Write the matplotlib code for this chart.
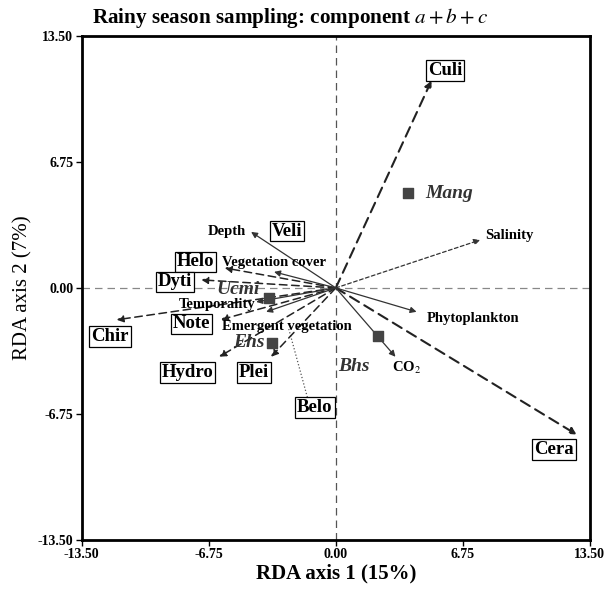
import matplotlib.pyplot as plt
import numpy as np

plt.rcParams['font.family'] = ['Liberation Serif', 'DejaVu Serif']
plt.rcParams['mathtext.fontset'] = 'stix'

# species arrows (tip coordinates) and their boxed labels
species = ['Culi', 'Cera', 'Helo', 'Dyti', 'Note', 'Chir', 'Hydro', 'Plei']
sp_x = [5.08, 12.8, -5.9, -7.15, -6.1, -11.65, -6.2, -3.44]
sp_y = [11.1, -7.86, 1.07, 0.43, -1.7, -1.71, -3.69, -3.69]

box_names = ['Culi', 'Veli', 'Helo', 'Dyti', 'Note', 'Chir', 'Hydro', 'Plei', 'Belo', 'Cera']
box_x = [5.8, -2.6, -7.46, -8.57, -7.67, -12.0, -7.88, -4.34, -1.11, 11.6]
box_y = [11.65, 3.05, 1.39, 0.32, -1.93, -2.62, -4.55, -4.55, -6.42, -8.66]

# environmental variables (arrow tips) and label positions
env = ['Depth', 'Vegetation cover', 'Temporality', 'Emergent vegetation',
       'Salinity', 'Phytoplankton', 'CO$_2$']
env_x = [-4.5, -3.28, -4.23, -3.7, 7.67, 4.29, 3.17]
env_y = [3.0, 0.86, -0.75, -1.28, 2.57, -1.28, -3.69]
env_lx = [-5.8, -3.3, -6.3, -2.6, 9.2, 7.3, 3.75]
env_ly = [3.0, 1.34, -0.9, -2.08, 2.83, -1.66, -4.3]

# habitat centroids
hab = ['Mang', 'Bhs', 'Ehs', 'Ucmi']
hab_x = [3.86, 2.22, -3.39, -3.54]
hab_y = [5.08, -2.56, -2.94, -0.53]
hab_lx = [4.75, 0.95, -4.6, -5.2]
hab_ly = [5.08, -4.23, -2.94, -0.1]

fig = plt.figure(figsize=(6.1, 5.9), dpi=100)
ax = fig.add_axes([0.134, 0.085, 0.833, 0.854])
ax.set_xlim(-13.5, 13.5)
ax.set_ylim(-13.5, 13.5)

ax.axhline(0, color='#888888', lw=0.9, ls=(0, (6, 4)))
ax.axvline(0, color='#555555', lw=0.9, ls=(0, (6, 4)))

for name, x, y in zip(species, sp_x, sp_y):
    lw = 1.5 if name in ('Culi', 'Cera') else 1.1
    ax.annotate('', xy=(x, y), xytext=(0, 0),
                arrowprops=dict(arrowstyle='-|>', color='#222222', lw=lw,
                                ls=(0, (5, 3)), mutation_scale=10, shrinkA=0, shrinkB=0))

for name, x, y in zip(env, env_x, env_y):
    ls = (0, (3, 2)) if name == 'Salinity' else '-'
    ax.annotate('', xy=(x, y), xytext=(0, 0),
                arrowprops=dict(arrowstyle='-|>', color='#333333', lw=0.9, ls=ls,
                                mutation_scale=9, shrinkA=0, shrinkB=0))

# dotted leader to Belo
ax.plot([-2.5, -1.5], [-2.2, -5.9], color='#555555', lw=0.9, ls=':')

for name, x, y in zip(env, env_lx, env_ly):
    ax.text(x, y, name, fontsize=10.5, fontweight='bold', ha='center', va='center')

for name, x, y in zip(box_names, box_x, box_y):
    ax.text(x, y, name, fontsize=13.5, fontweight='bold', ha='center', va='center',
            bbox=dict(boxstyle='square,pad=0.1', fc='white', ec='black', lw=0.9))

ax.scatter(hab_x, hab_y, marker='s', s=60, color='#444444', zorder=5)
for name, x, y in zip(hab, hab_lx, hab_ly):
    ha = 'left' if name == 'Mang' else 'center'
    ax.text(x, y, name, fontsize=14, fontstyle='italic', fontweight='bold',
            ha=ha, va='center', color='#333333')

ticks = [-13.5, -6.75, 0, 6.75, 13.5]
ax.set_xticks(ticks)
ax.set_yticks(ticks)
ax.set_xticklabels(['-13.50', '-6.75', '0.00', '6.75', '13.50'])
ax.set_yticklabels(['-13.50', '-6.75', '0.00', '6.75', '13.50'])
for lab in ax.get_xticklabels() + ax.get_yticklabels():
    lab.set_fontweight('bold')
    lab.set_fontsize(10)
ax.tick_params(direction='out', length=4, width=1, pad=2)
for sp in ax.spines.values():
    sp.set_linewidth(2)

ax.set_xlabel('RDA axis 1 (15%)', fontsize=15, fontweight='bold', labelpad=2)
ax.set_ylabel('RDA axis 2 (7%)', fontsize=15, labelpad=4)
fig.text(0.15, 0.969, 'Rainy season sampling: component $a + b + c$',
         fontsize=15.2, fontweight='bold', va='center')

fig.savefig('out.png', dpi=100)
